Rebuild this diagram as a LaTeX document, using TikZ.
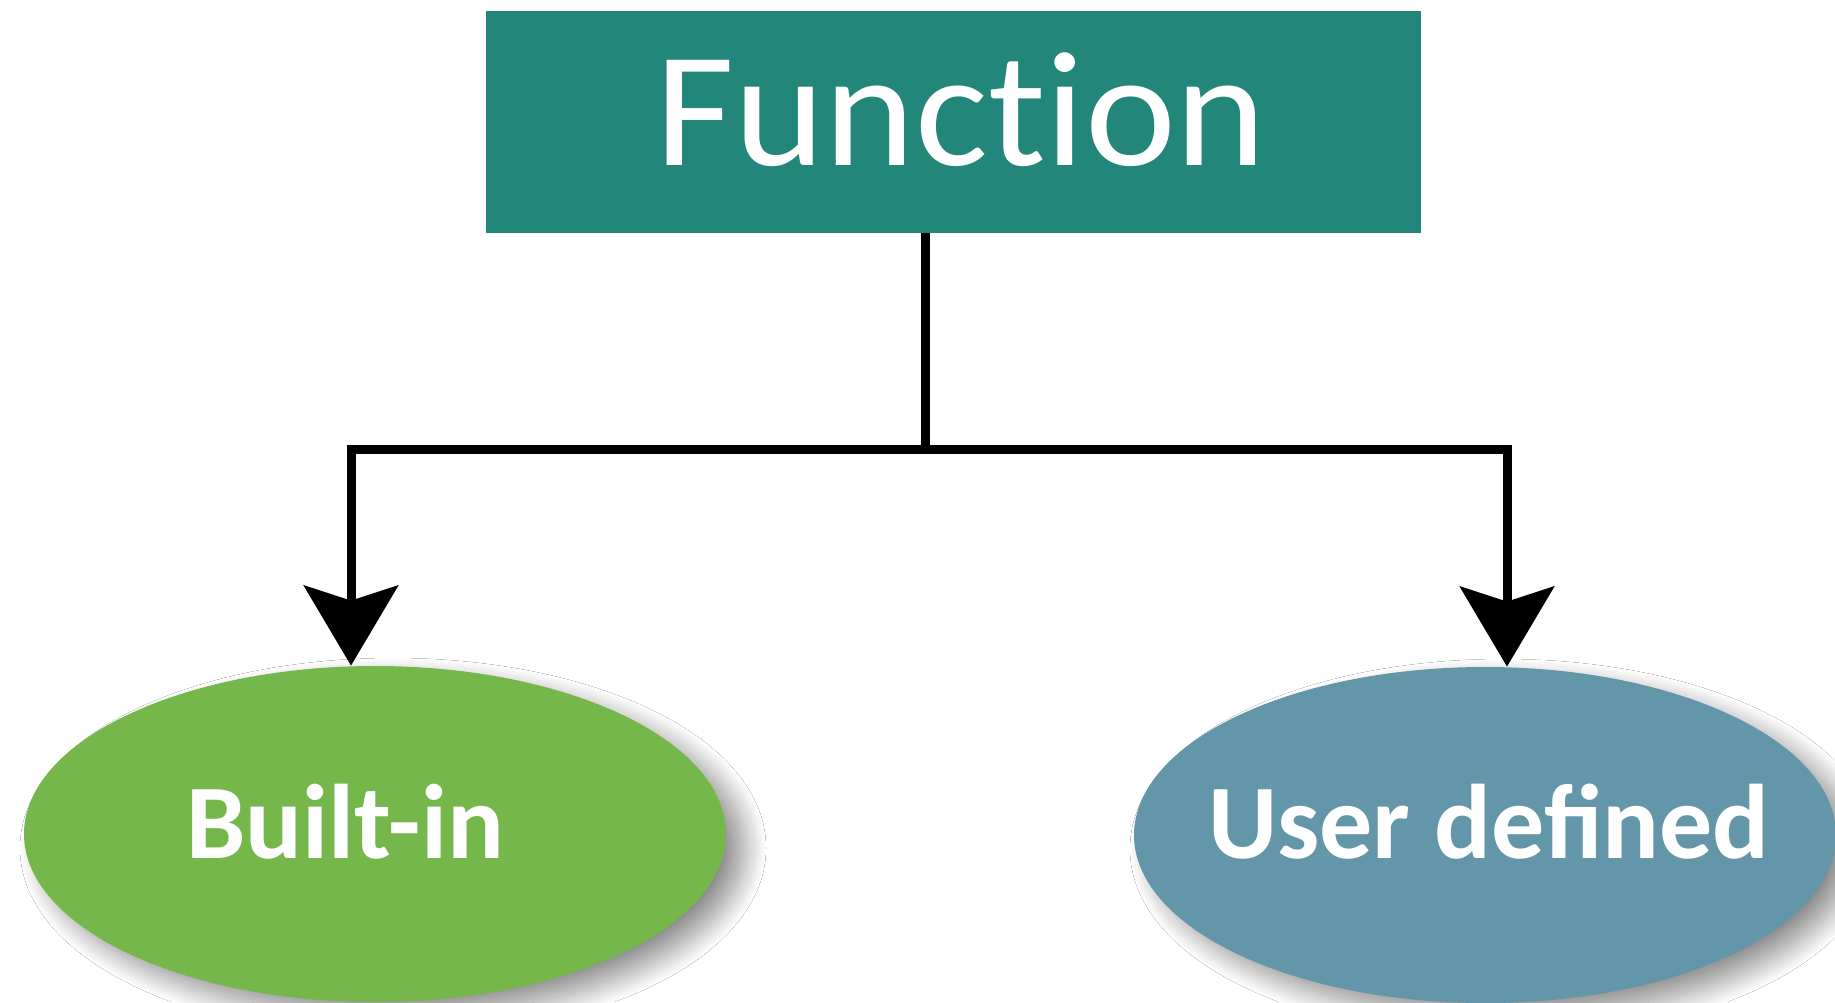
\documentclass[tikz,border=0pt]{standalone}
\usepackage{fontspec}
\setmainfont{Carlito}
\newfontfamily\headfont[Ligatures=NoCommon, FakeStretch=1.05]{Carlito}
\usetikzlibrary{arrows.meta,shadows.blur,shapes.geometric}
\definecolor{teal}{RGB}{34,135,122}
\definecolor{leaf}{RGB}{118,183,76}
\definecolor{slate}{RGB}{99,150,168}
\tikzset{
  headbox/.style={fill=teal, draw=none, minimum width=467.5pt, minimum height=111pt, inner sep=0pt},
  oval/.style={ellipse, draw=none, minimum width=351pt, minimum height=168pt, inner sep=0pt,
    blur shadow={shadow xshift=9pt, shadow yshift=-7pt, shadow blur radius=11pt, shadow blur steps=30, shadow opacity=45}},
  headtext/.style={text=white, anchor=base, font=\headfont\fontsize{82}{82}\selectfont, inner sep=0pt},
  ovaltext/.style={text=white, anchor=base, font=\bfseries\fontsize{53}{53}\selectfont, inner sep=0pt},
  link/.style={line width=4.5pt, draw=black, line join=miter},
  tip/.style={-{Stealth[length=40pt, width=47pt, inset=7.5pt]}}
}
\begin{document}
\begin{tikzpicture}[x=0.5pt, y=-0.5pt]
\useasboundingbox (0,0) rectangle (1835,1002);
\fill[white] (0,0) rectangle (1835,1002);
\node[headbox] (func) at (953.5,122) {};
\node[headtext] (functext) at (961,165) {Function};
\node[oval, fill=leaf] (builtin) at (375,834) {};
\node[oval, fill=slate] (user) at (1485,835) {};
\node[ovaltext] (builtintext) at (345,858) {Built-in};
\node[ovaltext] (usertext) at (1489,858) {User defined};
\coordinate (junc) at (925,449);
\coordinate (lc) at (351,449);
\coordinate (rc) at (1507,449);
\draw[link] (junc |- func.south) -- (junc);
\draw[link, tip] (junc) -- (lc) -- (lc |- builtin.north);
\draw[link, tip] (junc) -- (rc) -- (rc |- user.north);
\end{tikzpicture}
\end{document}
